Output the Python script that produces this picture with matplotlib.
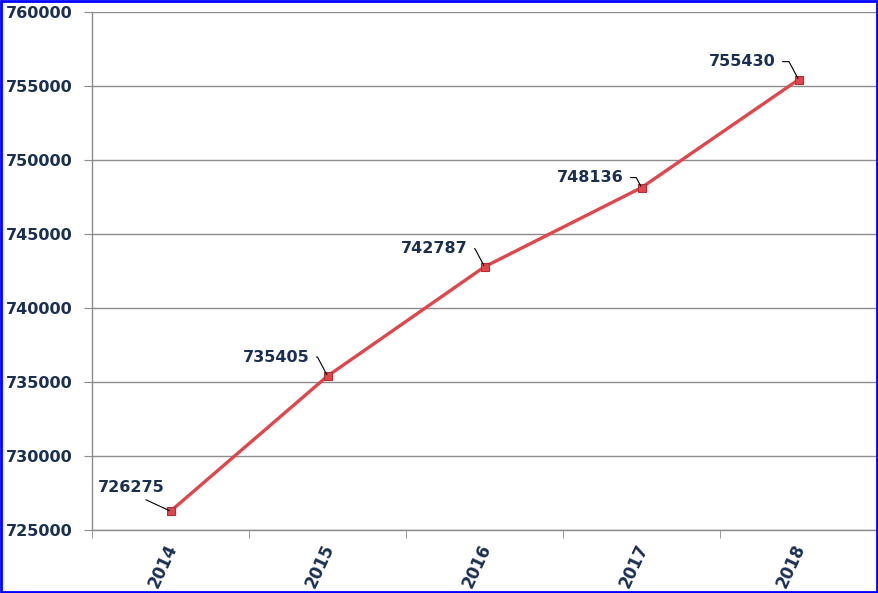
import matplotlib
matplotlib.use("Agg")
import matplotlib.pyplot as plt
import matplotlib.transforms as mtransforms
from matplotlib.patches import Rectangle
from matplotlib.ticker import FixedLocator

years = ["2014", "2015", "2016", "2017", "2018"]
values = [726275, 735405, 742787, 748136, 755430]

navy = "#1B2F52"
red = "#E0474C"

fig = plt.figure(figsize=(8.79, 5.93), dpi=100)
ax = fig.add_axes([0.1047, 0.1062, 0.8931, 0.8736])

x = list(range(len(years)))
ax.plot(x, values, color=red, linewidth=2.4, marker="s", markersize=6,
        markerfacecolor=red, markeredgecolor="#B03035", markeredgewidth=0.8,
        zorder=3)

# first label sits to the upper left with a straight leader
ax.annotate(str(values[0]), xy=(x[0], values[0]), xytext=(-39, 24),
            textcoords="offset pixels", ha="center", va="center",
            fontsize=11.5, fontweight="bold", color=navy,
            arrowprops=dict(arrowstyle="-", color="black", linewidth=0.8,
                            relpos=(0.55, 0.0), shrinkA=4, shrinkB=1))

# the rest: label left of the point, leader bent from the label's right side
offsets = [(-18, 19), (-17, 18), (-18, 10), (-23, 18)]
for xi, v, (dx, dy) in zip(x[1:], values[1:], offsets):
    ax.annotate(str(v), xy=(xi, v), xytext=(dx, dy), textcoords="offset pixels",
                ha="right", va="center", fontsize=11.5, fontweight="bold",
                color=navy,
                arrowprops=dict(arrowstyle="-", color="black", linewidth=0.8,
                                relpos=(1.0, 0.5), shrinkA=3, shrinkB=1,
                                connectionstyle="angle,angleA=0,angleB=118,rad=0"))

ax.set_xlim(-0.5, 4.5)
ax.set_ylim(725000, 760000)
ax.set_yticks(range(725000, 760001, 5000))
ax.set_yticklabels([str(t) for t in range(725000, 760001, 5000)])

ax.set_xticks(x)
ax.set_xticklabels(years, rotation=65, ha="center", va="top")
ax.xaxis.set_minor_locator(FixedLocator([-0.5, 0.5, 1.5, 2.5, 3.5, 4.5]))
ax.tick_params(axis="x", which="major", length=0, pad=8)
ax.tick_params(axis="x", which="minor", length=6, color="#8c8c8c", direction="out")
ax.tick_params(axis="y", length=6, color="#8c8c8c", direction="out", pad=8)

for lab in ax.get_xticklabels() + ax.get_yticklabels():
    lab.set_fontweight("bold")
    lab.set_fontsize(11.5)
    lab.set_color(navy)
# year labels sit a little left of the point, as in the reference
shift = mtransforms.ScaledTranslation(-0.08, 0, fig.dpi_scale_trans)
for lab in ax.get_xticklabels():
    lab.set_fontsize(12)
    lab.set_transform(lab.get_transform() + shift)

ax.grid(axis="y", color="#8c8c8c", linewidth=1)
ax.set_axisbelow(True)
for side in ["top", "right"]:
    ax.spines[side].set_visible(False)
for side in ["left", "bottom"]:
    ax.spines[side].set_color("#8c8c8c")
    ax.spines[side].set_linewidth(1)

# blue frame around the picture
fig.patches.append(Rectangle((0.001, 0.002), 0.997, 0.996, transform=fig.transFigure,
                             fill=False, edgecolor="#0000FF", linewidth=2))

fig.savefig("out.png", dpi=100)
